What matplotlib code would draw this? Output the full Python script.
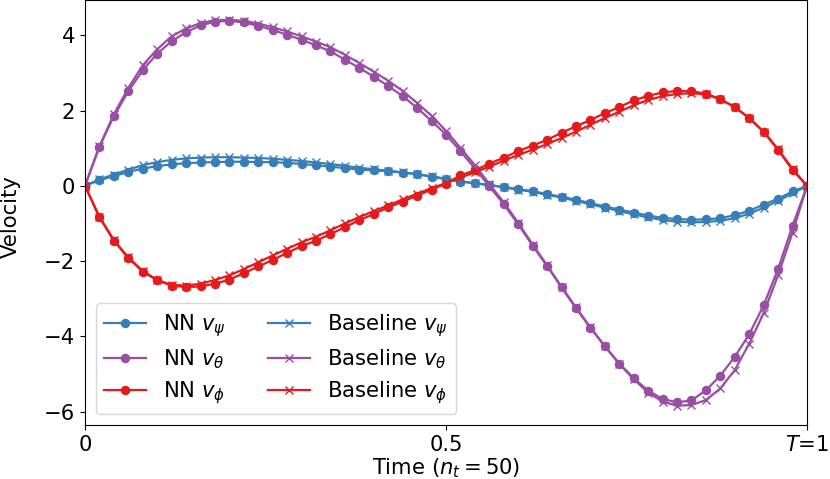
import numpy as np
import matplotlib
matplotlib.use("Agg")
import matplotlib.pyplot as plt

n_t = 50
time = np.linspace(0, 1, n_t + 1)

nn_psi = [0.00, 0.15, 0.26, 0.37, 0.46, 0.52, 0.57, 0.60, 0.62, 0.63,
          0.64, 0.64, 0.63, 0.63, 0.61, 0.58, 0.55, 0.51, 0.47, 0.43,
          0.41, 0.39, 0.35, 0.31, 0.24, 0.18, 0.11, 0.07, 0.02, -0.03,
          -0.09, -0.14, -0.22, -0.29, -0.37, -0.46, -0.55, -0.63, -0.71, -0.79,
          -0.85, -0.88, -0.90, -0.89, -0.86, -0.78, -0.66, -0.50, -0.34, -0.15,
          0.00]
nn_theta = [0.00, 1.04, 1.85, 2.51, 3.07, 3.51, 3.84, 4.08, 4.26, 4.36,
            4.38, 4.34, 4.25, 4.14, 4.01, 3.88, 3.73, 3.57, 3.35, 3.13,
            2.90, 2.65, 2.38, 2.07, 1.72, 1.36, 0.92, 0.46, -0.01, -0.49,
            -1.02, -1.59, -2.13, -2.70, -3.25, -3.77, -4.26, -4.72, -5.11, -5.44,
            -5.66, -5.75, -5.70, -5.43, -5.04, -4.54, -3.94, -3.17, -2.20, -1.06,
            0.00]
nn_phi = [0.00, -0.84, -1.46, -1.92, -2.28, -2.51, -2.65, -2.69, -2.67, -2.60,
          -2.49, -2.32, -2.14, -1.97, -1.78, -1.60, -1.46, -1.28, -1.10, -0.91,
          -0.75, -0.57, -0.42, -0.26, -0.10, 0.06, 0.28, 0.41, 0.59, 0.75,
          0.92, 1.07, 1.22, 1.41, 1.58, 1.75, 1.93, 2.09, 2.27, 2.39,
          2.48, 2.52, 2.51, 2.45, 2.30, 2.09, 1.80, 1.43, 0.95, 0.42,
          0.00]

base_psi = [0.00, 0.17, 0.30, 0.43, 0.55, 0.63, 0.69, 0.73, 0.75, 0.76,
            0.76, 0.75, 0.74, 0.72, 0.69, 0.66, 0.62, 0.58, 0.53, 0.48,
            0.44, 0.40, 0.36, 0.31, 0.25, 0.19, 0.12, 0.07, 0.02, -0.04,
            -0.10, -0.16, -0.24, -0.31, -0.40, -0.49, -0.58, -0.67, -0.76, -0.84,
            -0.91, -0.95, -0.97, -0.96, -0.93, -0.86, -0.74, -0.58, -0.40, -0.20,
            0.00]
base_theta = [0.00, 1.05, 1.90, 2.60, 3.20, 3.63, 3.97, 4.18, 4.32, 4.40,
              4.41, 4.38, 4.31, 4.21, 4.10, 3.97, 3.83, 3.68, 3.48, 3.26,
              3.03, 2.79, 2.52, 2.20, 1.86, 1.46, 1.01, 0.55, 0.05, -0.44,
              -0.98, -1.56, -2.11, -2.68, -3.23, -3.76, -4.26, -4.73, -5.14, -5.49,
              -5.73, -5.84, -5.82, -5.69, -5.38, -4.89, -4.19, -3.38, -2.37, -1.24,
              0.00]
base_phi = [0.00, -0.82, -1.44, -1.90, -2.26, -2.50, -2.63, -2.65, -2.60, -2.50,
            -2.38, -2.21, -2.03, -1.85, -1.67, -1.50, -1.35, -1.18, -1.00, -0.83,
            -0.67, -0.52, -0.36, -0.21, -0.06, 0.07, 0.22, 0.36, 0.51, 0.67,
            0.82, 0.96, 1.11, 1.27, 1.44, 1.62, 1.80, 1.97, 2.14, 2.28,
            2.38, 2.44, 2.46, 2.43, 2.30, 2.09, 1.80, 1.44, 0.97, 0.45,
            0.00]

xticks = [0, 0.5, 1]
xticklabels = ["0", "0.5", "$T$=1"]

colors = {"psi": "#377eb8", "theta": "#984ea3", "phi": "#e41a1c"}

plt.rcParams["font.size"] = 15.2
fig = plt.figure(figsize=(8.3, 4.79), dpi=100)
ax = fig.add_axes([0.1024, 0.1127, 0.8699, 0.8863])

lw = 1.6
ms = 5.8
ax.plot(time, nn_psi, "-o", color=colors["psi"], lw=lw, ms=ms, label=r"NN $v_\psi$")
ax.plot(time, nn_theta, "-o", color=colors["theta"], lw=lw, ms=ms, label=r"NN $v_\theta$")
ax.plot(time, nn_phi, "-o", color=colors["phi"], lw=lw, ms=ms, label=r"NN $v_\phi$")
ax.plot(time, base_psi, "-x", color=colors["psi"], lw=lw, ms=ms, label=r"Baseline $v_\psi$")
ax.plot(time, base_theta, "-x", color=colors["theta"], lw=lw, ms=ms, label=r"Baseline $v_\theta$")
ax.plot(time, base_phi, "-x", color=colors["phi"], lw=lw, ms=ms, label=r"Baseline $v_\phi$")

ax.set_xlim(0, 1)
ax.set_xticks(xticks)
ax.set_xticklabels(xticklabels)
ax.set_yticks([-6, -4, -2, 0, 2, 4])
ax.set_xlabel(r"Time ($n_t = 50$)", labelpad=1)
ax.set_ylabel("Velocity")
ax.yaxis.set_label_coords(-0.089, 0.49)
ax.legend(loc="lower left", ncol=2, labelspacing=0.4)

fig.savefig("out.png", dpi=100)
